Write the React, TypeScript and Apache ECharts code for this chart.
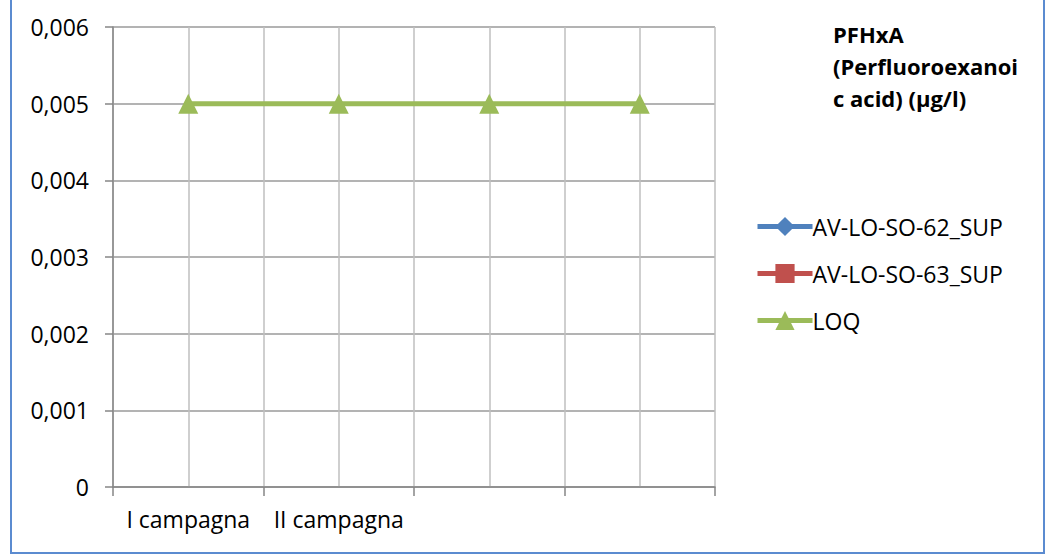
import React, { useEffect, useRef } from "react";
import * as echarts from "echarts";

const categories = ["I campagna", "II campagna", "", ""];
const seriesNames = ["AV-LO-SO-62_SUP", "AV-LO-SO-63_SUP", "LOQ"];
const valuesSO62: (number | null)[] = [null, null, null, null];
const valuesSO63: (number | null)[] = [null, null, null, null];
const valuesLOQ: (number | null)[] = [0.005, 0.005, 0.005, 0.005];
const titleLines = ["PFHxA", "(Perfluoroexanoi", "c acid) (µg/l)"];

const FONT = "'Open Sans', 'Liberation Sans', sans-serif";

export default function App() {
  const ref = useRef<HTMLDivElement>(null);
  useEffect(() => {
    if (!ref.current) return;
    const chart = echarts.init(ref.current, undefined, { renderer: "svg" });
    const mkSeries = (name: string, data: (number | null)[], color: string, symbol: string, size: number) => ({
      name,
      type: "line",
      data,
      xAxisIndex: 0,
      yAxisIndex: 0,
      symbol,
      symbolSize: size,
      showAllSymbol: true,
      itemStyle: { color },
      lineStyle: { color, width: 5 },
      emphasis: { disabled: true },
      z: 5,
    });
    chart.setOption({
      animation: false,
      backgroundColor: "#ffffff",
      textStyle: { fontFamily: FONT },
      grid: { left: 113, top: 27, width: 602, height: 460, containLabel: false },
      title: {
        text: titleLines.join("\n"),
        left: 833,
        top: 18,
        padding: 0,
        textStyle: { fontFamily: FONT, fontSize: 22, fontWeight: "bold", color: "#000", lineHeight: 32 },
      },
      legend: {
        orient: "vertical",
        left: 755,
        top: 215,
        itemWidth: 55,
        itemHeight: 24,
        itemGap: 24,
        padding: 0,
        selectedMode: false,
        data: seriesNames,
        lineStyle: { width: 5 },
        textStyle: { fontFamily: FONT, fontSize: 23, color: "#000", padding: [0, 0, 0, -5] },
      },
      xAxis: [
        {
          type: "category",
          data: categories,
          boundaryGap: true,
          axisLine: { show: true, lineStyle: { color: "#868686", width: 1.5 } },
          axisTick: { show: true, length: 9, lineStyle: { color: "#868686", width: 1.5 } },
          axisLabel: { interval: 0, margin: 20, fontFamily: FONT, fontSize: 23, color: "#000" },
          splitLine: { show: false },
        },
        {
          type: "value",
          min: 0,
          max: 8,
          interval: 1,
          show: true,
          position: "bottom",
          axisLine: { show: false },
          axisTick: { show: false },
          axisLabel: { show: false },
          splitLine: { show: true, lineStyle: { color: "#bfbfbf", width: 1.5 } },
        },
      ],
      yAxis: {
        type: "value",
        min: 0,
        max: 0.006,
        interval: 0.001,
        axisLine: { show: true, lineStyle: { color: "#868686", width: 1.5 } },
        axisTick: { show: true, length: 8, lineStyle: { color: "#868686", width: 1.5 } },
        axisLabel: {
          margin: 24,
          fontFamily: FONT,
          fontSize: 23,
          color: "#000",
          formatter: (v: number) => (v === 0 ? "0" : v.toFixed(3).replace(".", ",")),
        },
        splitLine: { show: true, lineStyle: { color: "#9a9a9a", width: 1.5 } },
      },
      graphic: [
        {
          type: "rect",
          shape: { x: 11, y: -10, width: 1033, height: 563 },
          style: { fill: "none", stroke: "#5b8bd0", lineWidth: 2 },
          silent: true,
          z: 100,
        },
      ],
      series: [
        mkSeries(seriesNames[0], valuesSO62, "#4F81BD", "diamond", 16),
        mkSeries(seriesNames[1], valuesSO63, "#C0504D", "rect", 14),
        mkSeries(seriesNames[2], valuesLOQ, "#9BBB59", "triangle", 20),
      ],
    });
    return () => chart.dispose();
  }, []);
  return (
    <div
      ref={ref}
      style={{ position: "fixed", left: 0, top: 0, width: 1057, height: 559, background: "#fff" }}
    />
  );
}
